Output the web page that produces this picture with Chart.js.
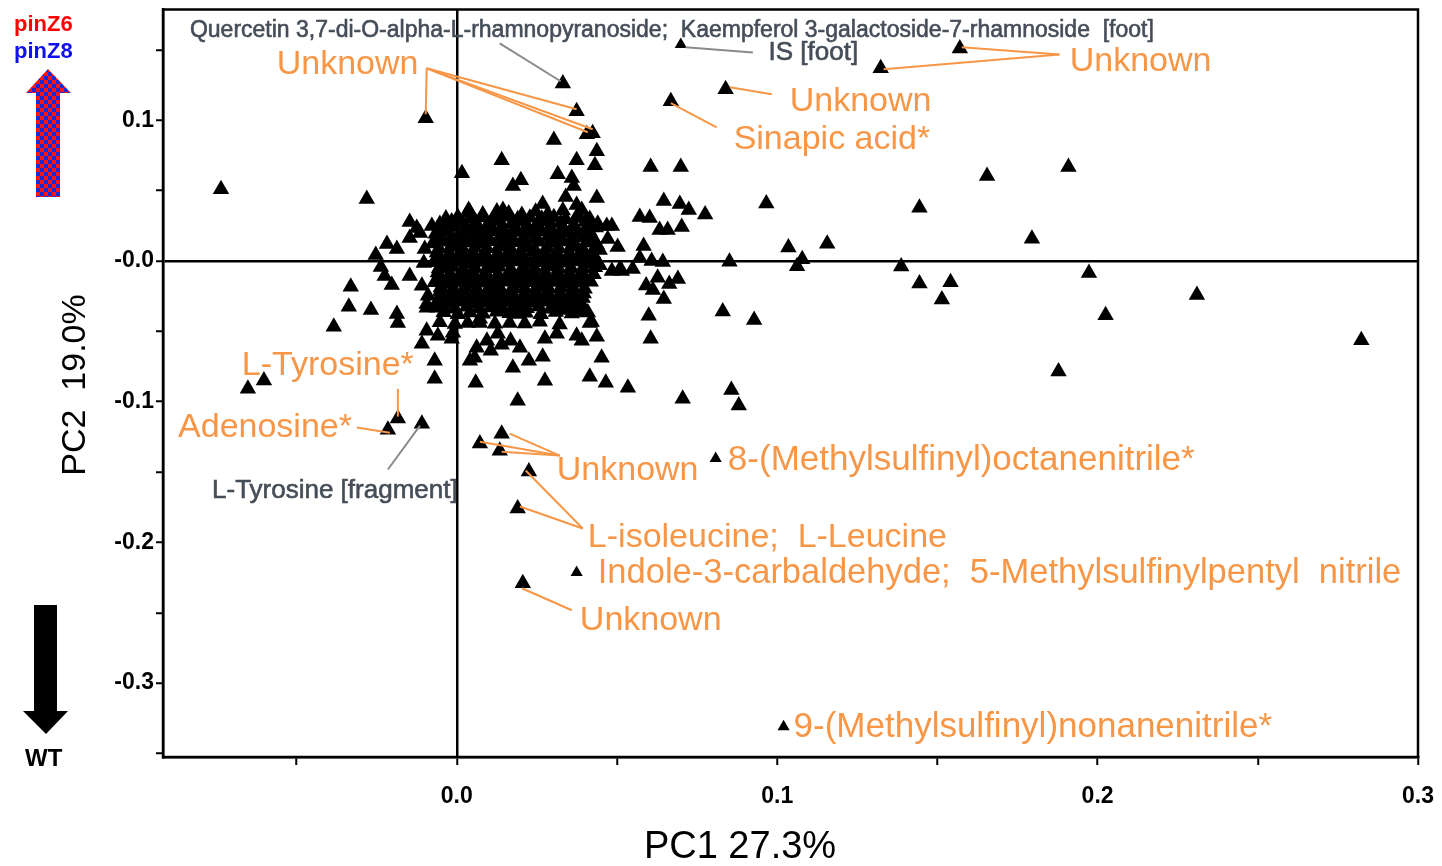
<!DOCTYPE html>
<html>
<head>
<meta charset="utf-8">
<script src="https://cdn.jsdelivr.net/npm/chart.js@4.4.1/dist/chart.umd.min.js"></script>
<style>
  html, body { margin: 0; padding: 0; background: #fff; }
  canvas { display: block; }
</style>
</head>
<body>
<canvas id="pca" width="1442" height="866"></canvas>
<script>
/* PCA loadings plot, pinZ6/pinZ8 vs WT */

// ── Data ─────────────────────────────────────────────

// dense centre of the loadings cloud
const clusterPts = [
  [0.0041,0.0345],[0.0081,0.0330],[0.0125,0.0352],[0.0162,0.0338],[0.0203,0.0326],[0.0246,0.0349],[0.0284,0.0333],[0.0331,0.0358],[0.0378,0.0330],
  [-0.0034,0.0301],[0.0003,0.0312],[0.0041,0.0298],[0.0078,0.0309],[0.0115,0.0303],[0.0153,0.0315],[0.0190,0.0296],[0.0228,0.0307],[0.0265,0.0300],[0.0303,0.0311],[0.0340,0.0297],[0.0378,0.0306],[0.0415,0.0299],
  [-0.0053,0.0262],[-0.0016,0.0281],[0.0019,0.0268],[0.0059,0.0275],[0.0097,0.0259],[0.0134,0.0284],[0.0172,0.0266],[0.0212,0.0278],[0.0250,0.0261],[0.0287,0.0283],[0.0324,0.0270],[0.0365,0.0257],[0.0402,0.0279],[0.0440,0.0265],
  [-0.0047,0.0230],[-0.0009,0.0241],[0.0028,0.0227],[0.0066,0.0238],[0.0103,0.0232],[0.0140,0.0244],[0.0178,0.0229],[0.0215,0.0236],[0.0253,0.0226],[0.0290,0.0240],[0.0328,0.0233],[0.0365,0.0243],[0.0402,0.0228],[0.0434,0.0237],
  [-0.0066,0.0193],[-0.0031,0.0207],[0.0006,0.0188],[0.0044,0.0202],[0.0078,0.0196],[0.0115,0.0211],[0.0153,0.0190],[0.0190,0.0205],[0.0228,0.0193],[0.0265,0.0209],[0.0303,0.0186],[0.0340,0.0201],[0.0378,0.0195],[0.0415,0.0208],
  [-0.0053,0.0159],[-0.0016,0.0170],[0.0022,0.0157],[0.0059,0.0166],[0.0097,0.0161],[0.0134,0.0172],[0.0172,0.0155],[0.0209,0.0167],[0.0246,0.0160],[0.0284,0.0171],[0.0321,0.0158],[0.0359,0.0164],[0.0396,0.0169],[0.0427,0.0156],
  [-0.0075,0.0124],[-0.0041,0.0137],[-0.0003,0.0119],[0.0034,0.0131],[0.0072,0.0126],[0.0106,0.0140],[0.0144,0.0122],[0.0181,0.0133],[0.0218,0.0118],[0.0256,0.0136],[0.0293,0.0127],[0.0331,0.0139],[0.0368,0.0121],[0.0406,0.0132],[0.0437,0.0117],
  [-0.0056,0.0088],[-0.0019,0.0099],[0.0019,0.0085],[0.0056,0.0096],[0.0094,0.0090],[0.0131,0.0101],[0.0168,0.0087],[0.0206,0.0095],[0.0243,0.0083],[0.0281,0.0098],[0.0318,0.0091],[0.0356,0.0100],[0.0393,0.0086],[0.0431,0.0094],
  [-0.0062,0.0061],[-0.0025,0.0049],[0.0012,0.0066],[0.0050,0.0052],[0.0087,0.0060],[0.0125,0.0045],[0.0162,0.0063],[0.0200,0.0054],[0.0237,0.0068],[0.0275,0.0050],[0.0312,0.0059],[0.0349,0.0047],[0.0387,0.0064],[0.0424,0.0055],
  [-0.0053,0.0017],[-0.0016,0.0028],[0.0022,0.0014],[0.0059,0.0025],[0.0097,0.0019],[0.0134,0.0030],[0.0172,0.0012],[0.0209,0.0024],[0.0246,0.0018],[0.0284,0.0029],[0.0321,0.0015],[0.0359,0.0026],[0.0396,0.0020],[0.0434,0.0011],
  [-0.0072,-0.0010],[-0.0034,-0.0022],[0.0003,-0.0006],[0.0041,-0.0019],[0.0078,-0.0008],[0.0115,-0.0024],[0.0153,-0.0011],[0.0190,-0.0003],[0.0228,-0.0020],[0.0265,-0.0009],[0.0303,-0.0025],[0.0340,-0.0012],[0.0378,-0.0004],[0.0415,-0.0018],[0.0446,-0.0030],
  [-0.0056,-0.0054],[-0.0019,-0.0043],[0.0019,-0.0057],[0.0056,-0.0046],[0.0094,-0.0052],[0.0131,-0.0041],[0.0168,-0.0056],[0.0206,-0.0047],[0.0243,-0.0053],[0.0281,-0.0040],[0.0318,-0.0055],[0.0356,-0.0048],[0.0393,-0.0051],[0.0431,-0.0044],
  [-0.0059,-0.0082],[-0.0022,-0.0095],[0.0016,-0.0078],[0.0053,-0.0090],[0.0090,-0.0084],[0.0128,-0.0097],[0.0165,-0.0080],[0.0203,-0.0088],[0.0240,-0.0076],[0.0278,-0.0093],[0.0315,-0.0083],[0.0353,-0.0091],[0.0390,-0.0079],[0.0427,-0.0094],
  [-0.0050,-0.0117],[-0.0012,-0.0128],[0.0025,-0.0114],[0.0062,-0.0125],[0.0100,-0.0119],[0.0137,-0.0130],[0.0175,-0.0116],[0.0212,-0.0124],[0.0250,-0.0112],[0.0287,-0.0127],[0.0324,-0.0120],[0.0362,-0.0131],[0.0399,-0.0118],
  [-0.0069,-0.0151],[-0.0031,-0.0163],[0.0006,-0.0149],[0.0044,-0.0160],[0.0081,-0.0154],[0.0119,-0.0166],[0.0156,-0.0147],[0.0193,-0.0158],[0.0231,-0.0152],[0.0268,-0.0165],[0.0306,-0.0150],[0.0343,-0.0161],[0.0381,-0.0155],[0.0418,-0.0148],
  [-0.0050,-0.0188],[-0.0012,-0.0199],[0.0025,-0.0185],[0.0062,-0.0196],[0.0100,-0.0190],[0.0137,-0.0201],[0.0175,-0.0187],[0.0212,-0.0195],[0.0250,-0.0183],[0.0287,-0.0198],[0.0324,-0.0191],[0.0362,-0.0186],[0.0399,-0.0197],
  [-0.0053,-0.0221],[-0.0016,-0.0235],[0.0022,-0.0224],[0.0059,-0.0230],[0.0097,-0.0219],[0.0134,-0.0233],[0.0172,-0.0226],[0.0209,-0.0238],[0.0246,-0.0222],[0.0284,-0.0229],[0.0321,-0.0236],[0.0359,-0.0220],[0.0396,-0.0231],
  [-0.0044,-0.0258],[-0.0006,-0.0269],[0.0031,-0.0255],[0.0069,-0.0266],[0.0106,-0.0260],[0.0144,-0.0271],[0.0181,-0.0257],[0.0218,-0.0265],[0.0256,-0.0253],[0.0293,-0.0268],[0.0331,-0.0261],[0.0368,-0.0256],[0.0393,-0.0264],
  [-0.0062,-0.0294],[-0.0025,-0.0305],[0.0012,-0.0290],[0.0050,-0.0301],[0.0087,-0.0296],[0.0125,-0.0308],[0.0162,-0.0292],[0.0200,-0.0303],[0.0237,-0.0297],[0.0275,-0.0289],[0.0312,-0.0306],[0.0349,-0.0295],[0.0387,-0.0302],
  [-0.0044,-0.0329],[-0.0006,-0.0340],[0.0031,-0.0326],[0.0069,-0.0337],[0.0106,-0.0331],[0.0144,-0.0342],[0.0181,-0.0328],[0.0218,-0.0336],[0.0256,-0.0324],[0.0293,-0.0339],[0.0331,-0.0332],[0.0368,-0.0327],[0.0396,-0.0335],
  [-0.0041,-0.0364],[0.0003,-0.0378],[0.0041,-0.0366],[0.0081,-0.0375],[0.0125,-0.0361],[0.0165,-0.0372],[0.0215,-0.0368],[0.0262,-0.0379],[0.0309,-0.0363],[0.0359,-0.0374],[0.0409,-0.0367],
  [-0.0053,-0.0436],[-0.0006,-0.0448],[0.0072,-0.0441],[0.0212,-0.0445],[0.0259,-0.0432],[0.0321,-0.0451],
];

// scattered loadings around the cloud
const outerPts = [
  [-0.0736,0.0510],[-0.0281,0.0440],[-0.0097,0.1014],[0.0331,0.1262],[0.0374,0.1064],[0.0406,0.0900],[0.0424,0.0908],
  [0.0303,0.0860],[0.0437,0.0780],[0.1570,0.1510],[0.1323,0.1369],[0.0839,0.1220],[0.0668,0.1135],
  [0.0140,0.0716],[0.0374,0.0716],[0.0431,0.0680],[0.0605,0.0667],[0.0699,0.0667],[0.0016,0.0624],[0.0315,0.0617],
  [0.0200,0.0574],[0.0175,0.0532],[0.0359,0.0589],[0.0365,0.0532],[0.0437,0.0447],[0.0646,0.0426],[0.0696,0.0404],
  [0.0724,0.0362],[0.0775,0.0331],[0.0340,0.0454],[0.0374,0.0397],[0.0390,0.0362],[0.0268,0.0404],[0.0037,0.0362],
  [0.0144,0.0362],[-0.0034,0.0270],[0.0571,0.0312],[0.0602,0.0305],[0.0702,0.0241],[0.0633,0.0220],[0.0658,0.0220],
  [0.0468,0.0248],[0.0484,0.0248],[0.0409,0.0199],[0.0471,0.0156],[0.0502,0.0099],[0.0583,0.0106],[0.0446,0.0078],
  [0.0571,0.0021],[0.0608,0.0000],[0.0643,-0.0007],[0.0851,-0.0005],[0.0515,-0.0071],[0.0549,-0.0057],[0.0484,-0.0071],
  [0.0509,-0.0057],[0.0627,-0.0120],[0.0690,-0.0128],[0.0591,-0.0174],[0.0663,-0.0163],[0.0612,-0.0206],[0.0646,-0.0270],
  [0.0599,-0.0390],[0.0830,-0.0360],[0.0605,-0.0553],[0.0415,-0.0440],[0.0374,-0.0532],[0.0390,-0.0567],[0.0437,-0.0539],
  [0.0312,-0.0518],[0.0275,-0.0553],[0.0452,-0.0688],[0.0268,-0.0681],[0.0225,-0.0709],[0.0197,-0.0617],[0.0168,-0.0567],
  [0.0175,-0.0759],[0.0106,-0.0638],[0.0056,-0.0688],[0.0062,-0.0617],[0.0415,-0.0823],[0.0465,-0.0865],[0.0275,-0.0851],
  [0.0059,-0.0865],[0.0534,-0.0901],[0.0190,-0.0993],[0.0705,-0.0979],[0.0857,-0.0917],[0.0880,-0.1028],[0.0374,-0.0355],
  [0.0346,-0.0348],[0.0393,-0.0362],[0.0421,-0.0433],[0.0119,-0.0447],[0.0128,-0.0518],[0.0094,-0.0567],[0.0140,-0.0596],
  [-0.0016,-0.0553],[0.0034,-0.0440],[0.0072,-0.0411],[0.0165,-0.0440],[0.0190,-0.0376],[-0.0012,-0.0511],[-0.0059,-0.0532],
  [-0.0094,-0.0496],[-0.0094,-0.0333],[-0.0062,-0.0333],[0.0041,-0.0709],
  [0.0966,0.0409],[0.1035,0.0095],[0.1156,0.0123],[0.1078,0.0012],[0.1062,-0.0038],[0.1387,-0.0040],[0.1444,0.0378],
  [0.1655,0.0603],[0.1909,0.0667],[0.1795,0.0158],[0.1444,-0.0161],[0.1541,-0.0151],[0.1514,-0.0274],[0.1973,-0.0085],
  [0.2310,-0.0241],[0.2025,-0.0385],[0.2823,-0.0563],[0.0928,-0.0420],[0.1878,-0.0785],
  [-0.0147,0.0277],[-0.0125,0.0234],[-0.0078,0.0248],[-0.0218,0.0120],[-0.0187,0.0085],[-0.0253,0.0043],[-0.0147,0.0163],
  [-0.0237,-0.0043],[-0.0225,-0.0106],[-0.0203,-0.0170],[-0.0147,-0.0106],[-0.0331,-0.0184],[-0.0337,-0.0326],[-0.0268,-0.0348],
  [-0.0187,-0.0376],[-0.0184,-0.0440],[-0.0384,-0.0468],[-0.0109,-0.0177],[-0.0109,-0.0589],[-0.0069,-0.0709],[-0.0069,-0.0837],
  [-0.0094,-0.0305],[-0.0115,0.0199],[-0.0100,0.0085],[-0.0103,-0.0014],[-0.0090,-0.0248],
  [-0.0652,-0.0908],[-0.0602,-0.0850],[-0.0184,-0.1120],[-0.0215,-0.1200],[-0.0109,-0.1156],
  [0.0072,-0.1298],[0.0140,-0.1227],[0.0134,-0.1348],[0.0225,-0.1496],[0.0190,-0.1759],[0.0206,-0.2291],
];

// loadings drawn with the smaller marker
const smallPts = [
  [0.0699,0.1539],[0.0374,-0.2213],[0.0808,-0.1404],[0.1020,-0.3310],
];

// axis ranges
const xRange = [-0.0917, 0.30];
const yRange = [-0.3525, 0.1787];

const xTitle = 'PC1 27.3%';
const yTitle = 'PC2  19.0%';

// ── Annotation layout (text anchor + leader lines, in data units) ──
const ORANGE = '#f79646';
const GREY = '#454d58';
const labelSpecs = [
  { text: 'Quercetin 3,7-di-O-alpha-L-rhamnopyranoside;  Kaempferol 3-galactoside-7-rhamnoside  [foot]', at: [-0.0833, 0.1638], size: 23, color: GREY,
    lines: [[[0.0134, 0.1546], [0.0324, 0.1277]]] },
  { text: 'IS [foot]', at: [0.0973, 0.1482], size: 26, color: GREY,
    lines: [[[0.0714, 0.1518], [0.0924, 0.1482]]] },
  { text: 'Unknown', at: [-0.0562, 0.1397], size: 34, color: ORANGE,
    lines: [[[-0.0094, 0.1369], [-0.0097, 0.1043]], [[-0.0094, 0.1369], [0.0374, 0.1078]],
            [[-0.0094, 0.1369], [0.0424, 0.0936]], [[-0.0094, 0.1369], [0.0409, 0.0915]]] },
  { text: 'Unknown', at: [0.1913, 0.1418], size: 34, color: ORANGE,
    lines: [[[0.1881, 0.1468], [0.1576, 0.1518]], [[0.1881, 0.1468], [0.1332, 0.1362]]] },
  { text: 'Unknown', at: [0.1039, 0.1135], size: 34, color: ORANGE,
    lines: [[[0.0983, 0.1184], [0.0852, 0.1234]]] },
  { text: 'Sinapic acid*', at: [0.0864, 0.0865], size: 34, color: ORANGE,
    lines: [[[0.0811, 0.0950], [0.0668, 0.1121]]] },
  { text: 'L-Tyrosine*', at: [-0.0671, -0.0745], size: 34, color: ORANGE,
    lines: [[[-0.0184, -0.0908], [-0.0184, -0.1106]]] },
  { text: 'Adenosine*', at: [-0.0870, -0.1184], size: 34, color: ORANGE,
    lines: [[[-0.0312, -0.1184], [-0.0209, -0.1220]]] },
  { text: 'L-Tyrosine [fragment]', at: [-0.0764, -0.1631], size: 26, color: GREY,
    lines: [[[-0.0215, -0.1482], [-0.0115, -0.1170]]] },
  { text: 'Unknown', at: [0.0312, -0.1489], size: 34, color: ORANGE,
    lines: [[[0.0321, -0.1383], [0.0072, -0.1284]], [[0.0321, -0.1383], [0.0165, -0.1227]],
            [[0.0321, -0.1383], [0.0140, -0.1355]]] },
  { text: '8-(Methylsulfinyl)octanenitrile*', at: [0.0846, -0.1418], size: 35, color: ORANGE, lines: [] },
  { text: 'L-isoleucine;  L-Leucine', at: [0.0409, -0.1965], size: 34, color: ORANGE,
    lines: [[[0.0393, -0.1901], [0.0215, -0.1489]], [[0.0393, -0.1901], [0.0197, -0.1745]]] },
  { text: 'Indole-3-carbaldehyde;  5-Methylsulfinylpentyl  nitrile', at: [0.0440, -0.2220], size: 34.5, color: ORANGE, lines: [] },
  { text: 'Unknown', at: [0.0384, -0.2553], size: 34, color: ORANGE,
    lines: [[[0.0359, -0.2482], [0.0203, -0.2326]]] },
  { text: '9-(Methylsulfinyl)nonanenitrile*', at: [0.1051, -0.3312], size: 35, color: ORANGE, lines: [] },
];

// ── Helpers ──────────────────────────────────────────

const FF = '"Liberation Sans", Arial, sans-serif';
const toXY = arr => arr.map(p => ({ x: p[0], y: p[1] }));
const isZero = v => Math.abs(v) < 1e-9;

function tenthLabel(v, zeroText) {
  const r = Math.round(v * 10) / 10;
  if (Math.abs(v - r) > 1e-6) return '';
  return isZero(r) ? zeroText : r.toFixed(1);
}

function checkerPattern(ctx) {
  const c = document.createElement('canvas');
  c.width = 8; c.height = 8;
  const g = c.getContext('2d');
  g.fillStyle = '#ff1414'; g.fillRect(0, 0, 8, 8);
  g.fillStyle = '#1a2ad6'; g.fillRect(0, 0, 4, 4); g.fillRect(4, 4, 4, 4);
  return ctx.createPattern(c, 'repeat');
}

// frame, annotations, side arrows and axis titles
const decorations = {
  id: 'decorations',
  afterDraw(chart) {
    const { ctx, chartArea: a, scales: { x, y } } = chart;
    ctx.save();

    // top / right frame
    ctx.strokeStyle = '#000'; ctx.lineWidth = 2.5;
    ctx.strokeRect(a.left, a.top, a.right - a.left, a.bottom - a.top);

    // leader lines + labels
    labelSpecs.forEach(s => {
      ctx.strokeStyle = s.color === ORANGE ? ORANGE : '#8a8a8a';
      ctx.lineWidth = 2;
      s.lines.forEach(([p, q]) => {
        ctx.beginPath();
        ctx.moveTo(x.getPixelForValue(p[0]), y.getPixelForValue(p[1]));
        ctx.lineTo(x.getPixelForValue(q[0]), y.getPixelForValue(q[1]));
        ctx.stroke();
      });
      const tx = x.getPixelForValue(s.at[0]), ty = y.getPixelForValue(s.at[1]);
      ctx.font = `${s.size}px ${FF}`;
      ctx.fillStyle = s.color;
      ctx.textAlign = 'left'; ctx.textBaseline = 'middle';
      ctx.fillText(s.text, tx, ty);
      if (s.color === GREY) {          // grey labels are drawn a touch heavier
        ctx.strokeStyle = GREY; ctx.lineWidth = 0.6;
        ctx.strokeText(s.text, tx, ty);
      }
    });

    // axis titles
    ctx.fillStyle = '#000';
    ctx.font = `38px ${FF}`;
    ctx.textAlign = 'center'; ctx.textBaseline = 'middle';
    ctx.fillText(xTitle, 740, 848);
    ctx.save();
    ctx.translate(76, 385); ctx.rotate(-Math.PI / 2);
    ctx.font = `34px ${FF}`;
    ctx.fillText(yTitle, 0, 0);
    ctx.restore();

    // group legend: pinZ6 / pinZ8 up, WT down
    ctx.textAlign = 'left'; ctx.textBaseline = 'alphabetic';
    ctx.font = `bold 22px ${FF}`;
    ctx.fillStyle = '#ff0000'; ctx.fillText('pinZ6', 14, 31);
    ctx.fillStyle = '#1010ee'; ctx.fillText('pinZ8', 14, 58);

    ctx.fillStyle = checkerPattern(ctx);
    ctx.beginPath();
    ctx.moveTo(48, 69); ctx.lineTo(71, 93); ctx.lineTo(60, 93); ctx.lineTo(60, 197);
    ctx.lineTo(36, 197); ctx.lineTo(36, 93); ctx.lineTo(26, 93); ctx.closePath();
    ctx.fill();

    ctx.fillStyle = '#000';
    ctx.beginPath();
    ctx.moveTo(34, 605); ctx.lineTo(57, 605); ctx.lineTo(57, 711); ctx.lineTo(68, 711);
    ctx.lineTo(46, 734); ctx.lineTo(23, 711); ctx.lineTo(34, 711); ctx.closePath();
    ctx.fill();
    ctx.font = `bold 24px ${FF}`;
    ctx.fillText('WT', 25, 766);

    ctx.restore();
  },
};

// ── Chart ────────────────────────────────────────────

const marker = { pointStyle: 'triangle', backgroundColor: '#000', borderColor: '#000', borderWidth: 0 };

new Chart(document.getElementById('pca'), {
  type: 'scatter',
  data: {
    datasets: [
      { label: 'cluster', data: toXY(clusterPts), ...marker, pointRadius: 9.5 },
      { label: 'outer',   data: toXY(outerPts),   ...marker, pointRadius: 9.5 },
      { label: 'small',   data: toXY(smallPts),   ...marker, pointRadius: 7 },
    ],
  },
  options: {
    responsive: false, animation: false, devicePixelRatio: 1,
    layout: { padding: { top: 8, right: 24, left: 0, bottom: 0 } },
    plugins: { legend: { display: false }, tooltip: { enabled: false } },
    scales: {
      x: {
        type: 'linear', min: xRange[0], max: xRange[1],
        afterFit: s => { s.height = 109; s.paddingLeft = 0; s.paddingRight = 0; },
        border: { display: true, color: '#000', width: 2.5 },
        grid: {
          color: c => (c.tick && isZero(c.tick.value) ? '#000' : 'rgba(0,0,0,0)'),
          lineWidth: 2.5, tickColor: '#000', tickWidth: 2, tickLength: 8,
        },
        ticks: {
          stepSize: 0.05, includeBounds: false, autoSkip: false, maxRotation: 0,
          color: '#000', padding: 18, font: { family: FF, size: 23, weight: 'bold' },
          callback: v => tenthLabel(v, '0.0'),
        },
      },
      y: {
        type: 'linear', min: yRange[0], max: yRange[1],
        afterFit: s => { s.width = 163; s.paddingTop = 0; s.paddingBottom = 0; },
        border: { display: true, color: '#000', width: 2.5 },
        grid: {
          color: c => (c.tick && isZero(c.tick.value) ? '#000' : 'rgba(0,0,0,0)'),
          lineWidth: 2.5, tickColor: '#000', tickWidth: 2, tickLength: 7,
        },
        ticks: {
          stepSize: 0.05, includeBounds: false, autoSkip: false,
          color: '#000', padding: 2, font: { family: FF, size: 23, weight: 'bold' },
          callback: v => tenthLabel(v, '-0.0'),
        },
      },
    },
  },
  plugins: [decorations],
});
</script>
</body>
</html>
